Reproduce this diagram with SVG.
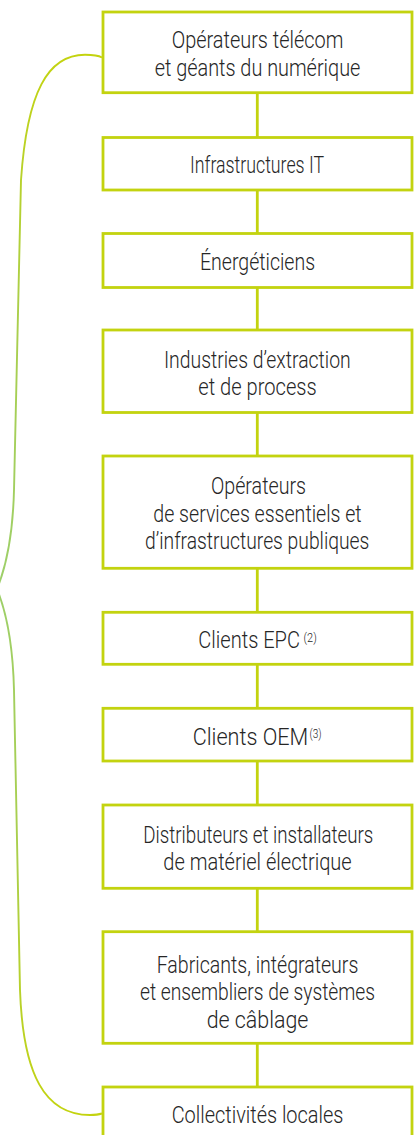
<svg xmlns="http://www.w3.org/2000/svg" width="414" height="1135" viewBox="0 0 414 1135">
<style>
.box{fill:#fff;stroke:#c3d30f;stroke-width:2.8}
.con{stroke:#c3d30f;stroke-width:2.8;fill:none}
.t{font-family:Roboto,Lato,"Liberation Sans",sans-serif;font-weight:300;font-size:24px;fill:#262626;text-anchor:middle}
.l{text-anchor:start}
.s{font-family:Roboto,Lato,"Liberation Sans",sans-serif;font-weight:300;font-size:12px;fill:#262626}
</style>
<defs>
<linearGradient id="bg" gradientUnits="userSpaceOnUse" x1="0" y1="55" x2="0" y2="1115">
<stop offset="0" stop-color="#c3d30f"/>
<stop offset="0.25" stop-color="#aacf4c"/>
<stop offset="0.5" stop-color="#9dcf6a"/>
<stop offset="0.75" stop-color="#aacf4c"/>
<stop offset="1" stop-color="#c3d30f"/>
</linearGradient>
</defs>
<rect width="414" height="1135" fill="#fff"/>
<g id="connectors">
<path class="con" d="M257.3 92.7V137.5M257.3 190V233.5M257.3 287.5V330M257.3 412.5V456M257.3 568.3V612.3M257.3 664.3V708.3M257.3 761V805M257.3 888.3V931.7M257.3 1043.3V1087"/>
<path id="brace" fill="none" stroke="url(#bg)" stroke-width="1.9" d="M102 57.5C99 55.8 95 54.8 85 54.8C48 54.8 27 92 21 180L14 490C13 530 8 562 -3 589C8 616 13 648 14 690L20 990C23 1075 45 1115 90 1115C95 1115 99 1114.5 102 1113.5"/>
</g>
<g id="n1"><rect class="box" x="103" y="12" width="309" height="80.7"/>
<text class="t" transform="translate(257.5 48) scale(0.8 1)" textLength="214.5" lengthAdjust="spacingAndGlyphs">Opérateurs télécom</text>
<text class="t" transform="translate(257.5 75.8) scale(0.8 1)" textLength="257.1" lengthAdjust="spacingAndGlyphs">et géants du numérique</text></g>
<g id="n2"><rect class="box" x="103" y="137.5" width="309" height="52.5"/>
<text class="t" transform="translate(257 173.3) scale(0.8 1)" textLength="167.5" lengthAdjust="spacingAndGlyphs">Infrastructures IT</text></g>
<g id="n3"><rect class="box" x="103" y="233.5" width="309" height="54"/>
<text class="t" transform="translate(257.5 270.2) scale(0.8 1)" textLength="143.8" lengthAdjust="spacingAndGlyphs">Énergéticiens</text></g>
<g id="n4"><rect class="box" x="103" y="330" width="309" height="82.5"/>
<text class="t" transform="translate(257.3 367.8) scale(0.8 1)" textLength="233.4" lengthAdjust="spacingAndGlyphs">Industries d’extraction</text>
<text class="t" transform="translate(257.5 395) scale(0.8 1)" textLength="147.9" lengthAdjust="spacingAndGlyphs">et de process</text></g>
<g id="n5"><rect class="box" x="103" y="456" width="309" height="112.3"/>
<text class="t" transform="translate(258.5 493.8) scale(0.8 1)" textLength="118.8" lengthAdjust="spacingAndGlyphs">Opérateurs</text>
<text class="t" transform="translate(257.5 521.5) scale(0.8 1)" textLength="260.4" lengthAdjust="spacingAndGlyphs">de services essentiels et</text>
<text class="t" transform="translate(257.2 548.5) scale(0.8 1)" textLength="280.4" lengthAdjust="spacingAndGlyphs">d’infrastructures publiques</text></g>
<g id="n6"><rect class="box" x="103" y="612.3" width="309" height="52"/>
<text class="t l" transform="translate(198.3 648.2) scale(0.8 1)" textLength="127.1" lengthAdjust="spacingAndGlyphs">Clients EPC</text>
<text class="s" transform="translate(303.6 641.8) scale(0.8 1)" textLength="16.5" lengthAdjust="spacingAndGlyphs">(2)</text></g>
<g id="n7"><rect class="box" x="103" y="708.3" width="309" height="52.7"/>
<text class="t l" transform="translate(192.7 744.8) scale(0.8 1)" textLength="144.5" lengthAdjust="spacingAndGlyphs">Clients OEM</text>
<text class="s" transform="translate(309.5 738.4) scale(0.8 1)" textLength="15.2" lengthAdjust="spacingAndGlyphs">(3)</text></g>
<g id="n8"><rect class="box" x="103" y="805" width="309" height="83.3"/>
<text class="t" transform="translate(258.3 842.8) scale(0.8 1)" textLength="287.5" lengthAdjust="spacingAndGlyphs">Distributeurs et installateurs</text>
<text class="t" transform="translate(257.5 870.3) scale(0.8 1)" textLength="235.4" lengthAdjust="spacingAndGlyphs">de matériel électrique</text></g>
<g id="n9"><rect class="box" x="103" y="931.7" width="309" height="111.6"/>
<text class="t" transform="translate(257.5 972.5) scale(0.8 1)" textLength="252.1" lengthAdjust="spacingAndGlyphs">Fabricants, intégrateurs</text>
<text class="t" transform="translate(257.5 1000) scale(0.8 1)" textLength="293.8" lengthAdjust="spacingAndGlyphs">et ensembliers de systèmes</text>
<text class="t" transform="translate(257.5 1027.5) scale(0.8 1)" textLength="127.1" lengthAdjust="spacingAndGlyphs">de câblage</text></g>
<g id="n10"><rect class="box" x="103" y="1087" width="309" height="52"/>
<text class="t" transform="translate(257.5 1122.8) scale(0.8 1)" textLength="214.6" lengthAdjust="spacingAndGlyphs">Collectivités locales</text></g>
</svg>
